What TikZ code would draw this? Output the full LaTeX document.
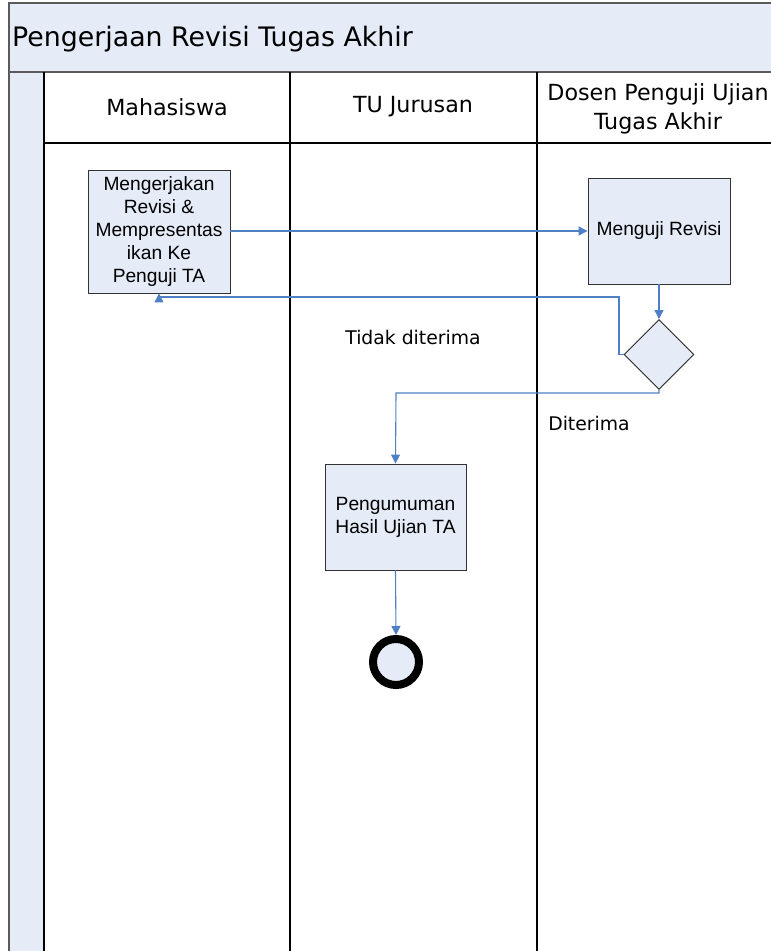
\documentclass[tikz,border=0pt]{standalone}
\usepackage{fontspec}
\setmainfont{Liberation Sans}
\newfontfamily\lanefont{DejaVu Sans}
\usetikzlibrary{arrows.meta,shapes.geometric}
\definecolor{paleblue}{HTML}{E5ECF7}
\definecolor{flowblue}{HTML}{4F7FC4}
\definecolor{framegray}{HTML}{5A5A5A}
\tikzset{
  proc/.style={draw=black!80, fill=paleblue, line width=0.9pt, align=center,
    font=\fontsize{19.2}{23}\selectfont, inner sep=1pt},
  decide/.style={diamond, draw=black!85, fill=paleblue, line width=0.9pt,
    minimum width=70pt, minimum height=70pt, inner sep=0pt},
  endstate/.style={circle, draw=black, fill=paleblue, line width=8pt,
    minimum size=46pt, inner sep=0pt},
  flow/.style={draw=flowblue, line width=1.1pt,
    -{Triangle[width=9pt,length=9pt]}},
  lanehead/.style={font=\lanefont\fontsize{22.2}{29}\selectfont, align=center},
  flowlabel/.style={font=\lanefont\fontsize{18.8}{22}\selectfont},
  laneline/.style={draw=black, line width=1.2pt},
}
\begin{document}
\begin{tikzpicture}[x=1pt,y=-1pt]
\useasboundingbox (0,0) rectangle (771,951);
\begin{scope}
\clip (0,0) rectangle (771,951);
% pool frame with title band
\fill[paleblue] (9,3) rectangle (820,72);
\fill[paleblue] (9,72) rectangle (44,1000);
\draw[framegray, line width=2pt] (9,1000) -- (9,3) -- (820,3);
\draw[framegray, line width=2.2pt] (9,72) -- (820,72);
% lane header row and lane separators
\draw[laneline] (44,72) -- (44,1000);
\draw[laneline] (44,143) -- (820,143);
\draw[laneline] (290,72) -- (290,1000);
\draw[laneline] (537,72) -- (537,1000);
\end{scope}
\node[anchor=west, inner sep=0pt, font=\lanefont\fontsize{26.8}{30}\selectfont] (title) at (12,39) {Pengerjaan Revisi Tugas Akhir};
\node[lanehead] (h1) at (167,107) {Mahasiswa};
\node[lanehead] (h2) at (413,107) {TU Jurusan};
\node[lanehead] (h3) at (658,109) {Dosen Penguji Ujian\\Tugas Akhir};
% activities
\node[proc, minimum width=142pt, minimum height=123pt] (m1) at (159,231.5)
  {\raisebox{0pt}{}Mengerjakan\\Revisi \&\\Mempresentas\\ikan Ke\\Penguji TA};
\node[proc, minimum width=142pt, minimum height=106pt] (m2) at (659,231)
  {Menguji Revisi};
\node[decide] (d) at (659,354.5) {};
\node[proc, minimum width=141pt, minimum height=106pt] (m3) at (395.5,517)
  {Pengumuman\\Hasil Ujian TA};
\node[endstate] (e) at (396,662) {};
% connectors
\coordinate (k1) at (619,297);
\coordinate (k2) at (396,393);
\draw[flow] (m1.east |- m2.west) -- (m2.west);
\draw[flow] (m2.south) -- (d.north);
\draw[flow] (d.west) -| (k1) -| (m1.south);
\draw[flow] (d.south) |- (k2) -- (m3.north);
\draw[flow] (m3.south) -- (e.north);
% branch labels
\node[flowlabel] (l1) at (413,337) {Tidak diterima};
\node[flowlabel] (l2) at (589,423) {Diterima};
\end{tikzpicture}
\end{document}
